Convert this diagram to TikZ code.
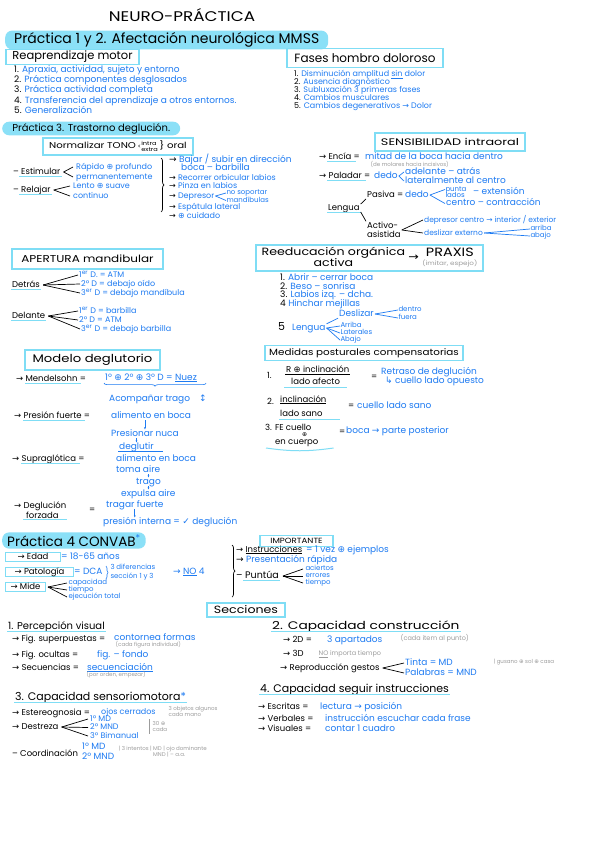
\documentclass[tikz,border=0pt]{standalone}
\usepackage{fontspec}
\setmainfont{Poppins}
\newfontfamily\symf{DejaVu Sans}
\usetikzlibrary{arrows.meta,positioning,decorations.pathreplacing}

\definecolor{ink}{HTML}{1E7BF2}
\definecolor{hili}{HTML}{8BE0F7}
\definecolor{cyanl}{HTML}{7FDDF5}
\definecolor{pencil}{HTML}{9C9C9C}

\newcommand{\rarr}{{\symf →}}
\newcommand{\udarr}{{\symf ↕}}
\newcommand{\plusc}{{\symf ⊕}}
\newcommand{\chk}{{\symf ✓}}
\newcommand{\hook}{{\symf ↳}}
\newcommand{\wid}[2]{\scalebox{#1}[1]{#2}}
\renewcommand{\arraystretch}{0.85}

\begin{document}
\begin{tikzpicture}[x=1pt, y=-1pt,
    font=\fontsize{8.5}{9}\selectfont,
    hd/.style={fill=hili, rounded corners=7pt, anchor=west, inner xsep=5pt,
      inner ysep=2pt, font=\fontsize{14}{14}\selectfont},
    box/.style={draw=cyanl, line width=1.1pt, align=center, inner sep=1pt,
      font=\fontsize{10.5}{11}\selectfont},
    tag/.style={draw=cyanl, line width=1pt, anchor=west, inner xsep=2pt,
      inner ysep=1pt, text height=5.5pt, text depth=1.5pt},
    bk/.style={anchor=west, inner xsep=1pt, inner ysep=0.3pt, text height=5.5pt, text depth=1.5pt},
    bl/.style={bk, text=ink, font=\fontsize{9}{9.5}\selectfont, text height=5.8pt},
    bls/.style={bl, font=\fontsize{8}{8.5}\selectfont, text height=5.3pt, text depth=1.3pt},
    two/.style={anchor=west, inner sep=1pt, align=left, font=\fontsize{8.5}{8.5}\selectfont},
    gr/.style={anchor=west, inner sep=0.5pt, text=pencil, font=\fontsize{5.5}{6}\selectfont},
    sm/.style={bl, inner sep=0.3pt, font=\fontsize{7}{7}\selectfont, text height=4.8pt, text depth=1pt},
    ul/.style={draw=cyanl, line width=1pt},
    br/.style={line width=0.7pt},
    dn/.style={-{Latex[length=2.5pt]}, ink, line width=0.6pt},
    brc/.style={decorate, decoration={brace, amplitude=3pt}, line width=0.7pt}
  ]
    \fill[white] (0,0) rectangle (599,848);
    \useasboundingbox (0,0) rectangle (599,848);

    % title and practica 1 y 2
    \node[font=\fontsize{14}{14}\selectfont, inner sep=0pt] (title) at (182,15) {\wid{1.2}{NEURO-PRÁCTICA}};
    \node[hd, minimum width=323pt] (p12) at (5,40) {Práctica 1 y 2. Afectación neurológica MMSS};

    \node[box, minimum width=133pt, minimum height=15pt, font=\fontsize{11.5}{12}\selectfont] (reap) at (72.5,57) {Reaprendizaje motor};
    \node[bl] (r1) at (13,70) {\textcolor{black}{1.} Apraxia, actividad, sujeto y entorno};
    \node[bl, below=2pt of r1.south west, anchor=north west] (r2) {\textcolor{black}{2.} Práctica componentes desglosados};
    \node[bl, below=2pt of r2.south west, anchor=north west] (r3) {\textcolor{black}{3.} Práctica actividad completa};
    \node[bl, below=2pt of r3.south west, anchor=north west] (r4) {\textcolor{black}{4.} Transferencia del aprendizaje a otros entornos.};
    \node[bl, below=2pt of r4.south west, anchor=north west] (r5) {\textcolor{black}{5.} Generalización};

    \node[box, minimum width=156pt, minimum height=19pt, font=\fontsize{12}{12}\selectfont] (fases) at (365,58) {Fases hombro doloroso};
    \node[bls] (f1) at (293,75) {\textcolor{black}{1.} Disminución amplitud \underline{sin} dolor};
    \node[bls] (f2) at (293,83) {\textcolor{black}{2.} Ausencia diagnóstico};
    \node[bls] (f3) at (293,91) {\textcolor{black}{3.} Subluxación 3 primeras fases};
    \node[bls] (f4) at (293,99) {\textcolor{black}{4.} Cambios musculares};
    \node[bls] (f5) at (293,107) {\textcolor{black}{5.} Cambios degenerativos \rarr\ Dolor};

    % practica 3
    \node[hd, minimum width=178pt, font=\fontsize{10}{10}\selectfont, inner ysep=1.5pt] (p3) at (2,128.5) {Práctica 3. Trastorno deglución.};

    \node[box, minimum width=150pt, minimum height=17pt, font=\fontsize{8.5}{9}\selectfont] (tono) at (118,146.5)
      {\wid{1.2}{Normalizar TONO\,{\fontsize{5.5}{6}\selectfont<\begin{tabular}{@{}l@{}}intra\\extra\end{tabular}}\,\} oral}};

    \node[bk] (estim) at (12,172) {– Estimular};
    \draw[ul] ([xshift=7pt]estim.south west) -- (estim.south east);
    \node[bls] (rap) at (75,167) {Rápido \plusc{} profundo};
    \node[bls] (perm) at (75,177) {permanentemente};
    \draw[br] ([xshift=2pt]estim.east) -- ([xshift=-2pt]rap.west);
    \draw[br] ([xshift=2pt]estim.east) -- ([xshift=-2pt]perm.west);
    \node[bk] (relaj) at (12,190) {– Relajar};
    \draw[ul] ([xshift=7pt]relaj.south west) -- (relaj.south east);
    \node[bls] (lento) at (72,186) {Lento \plusc{} suave};
    \node[bls] (cont) at (72,196) {continuo};
    \draw[br] ([xshift=2pt]relaj.east) -- ([xshift=-2pt]lento.west);
    \draw[br] ([xshift=2pt]relaj.east) -- ([xshift=-2pt]cont.west);

    \draw[brc] (161,158) -- (161,212);
    \node[bl] (b1) at (168,160) {\textcolor{black}{\rarr} Bajar / subir en dirección};
    \node[bl] (b1b) at (180,168.5) {boca – barbilla};
    \node[bls] (b2) at (168,178) {\textcolor{black}{\rarr} Recorrer orbicular labios};
    \node[bls] (b3) at (168,186.5) {\textcolor{black}{\rarr} Pinza en labios};
    \node[bls] (b4) at (168,196) {\textcolor{black}{\rarr} Depresor};
    \node[sm] (b4a) at (226,193) {no soportar};
    \node[sm] (b4b) at (226,200.5) {mandíbulas};
    \draw[br, ink] (b4.east) -- (b4a.west);
    \draw[br, ink] (b4.east) -- (b4b.west);
    \node[bls] (b5) at (168,207.5) {\textcolor{black}{\rarr} Espátula lateral};
    \node[bls] (b6) at (168,216.5) {\textcolor{black}{\rarr} \plusc{} cuidado};

    % sensibilidad intraoral
    \node[box, minimum width=150pt, minimum height=18pt, font=\fontsize{9.5}{10}\selectfont] (sens) at (450,142) {\wid{1.35}{SENSIBILIDAD intraoral}};
    \node[bk] (enc) at (318,157) {\rarr\ Encía =};
    \draw[ul] ([xshift=9pt]enc.south west) -- ([xshift=-5pt]enc.south east);
    \node[bl] (encb) at (364,157) {mitad de la boca hacia dentro};
    \node[gr] (encg) at (370,164) {(de molares hacia incisivos)};
    \node[bk] (pal) at (318,176) {\rarr\ Paladar =};
    \draw[ul] ([xshift=9pt]pal.south west) -- ([xshift=-5pt]pal.south east);
    \node[bl] (paldedo) at (373,176) {dedo};
    \node[bl] (pala) at (404,172) {adelante – atrás};
    \node[bl] (palb) at (404,181) {lateralmente al centro};
    \draw[br, ink] (paldedo.east) -- (pala.west);
    \draw[br, ink] (paldedo.east) -- (palb.west);

    \node[bk] (leng) at (327,208) {Lengua};
    \draw[ul] (leng.south west) -- (leng.south east);
    \node[bk] (pas) at (366,195) {Pasiva =};
    \node[bl] (pasdedo) at (404,195) {dedo};
    \node[sm] (pp1) at (445,189.5) {punta};
    \node[sm] (pp2) at (445,196) {lados};
    \node[bl] (pext) at (472,192) {– extensión};
    \node[bl] (pcen) at (445,203.5) {centro – contracción};
    \draw[br, ink] (pasdedo.east) -- (pp1.west);
    \draw[br, ink] (pasdedo.east) -- (pcen.west);
    \node[two] (act) at (366,230) {Activo-\\asistida};
    \draw[br] (leng.north east) -- (pas.south west);
    \draw[br] (leng.south east) -- (act.north west);
    \node[bl, font=\fontsize{7.5}{8}\selectfont] (act1) at (423,220) {depresor centro \rarr\ interior / exterior};
    \node[bl, font=\fontsize{7.5}{8}\selectfont] (act2) at (423,233) {deslizar externo};
    \node[sm] (aa1) at (530,229) {arriba};
    \node[sm] (aa2) at (530,236) {abajo};
    \draw[br] (act.east) -- (act1.west);
    \draw[br] (act.east) -- (act2.west);
    \draw[br, ink] (act2.east) -- (aa1.west);
    \draw[br, ink] (act2.east) -- (aa2.west);

    % apertura mandibular
    \node[box, minimum width=151pt, minimum height=20pt, font=\fontsize{10}{10}\selectfont] (aper) at (87.5,259) {\wid{1.2}{APERTURA mandibular}};
    \node[bk] (detras) at (11,285) {Detrás};
    \draw[ul] (detras.south west) -- (detras.south east);
    \node[bls] (d1) at (78,275) {1\textsuperscript{er} D. = ATM};
    \node[bls] (d2) at (80,284) {2º D = debajo oído};
    \node[bls] (d3) at (80,293) {3\textsuperscript{er} D = debajo mandíbula};
    \foreach \t in {d1,d2,d3} \draw[br] ([xshift=2pt]detras.east) -- (\t.west);
    \node[bk] (delante) at (11,316) {Delante};
    \draw[ul] (delante.south west) -- (delante.south east);
    \node[bls] (e1) at (78,311) {1\textsuperscript{er} D = barbilla};
    \node[bls] (e2) at (78,320) {2º D = ATM};
    \node[bls] (e3) at (80,329) {3\textsuperscript{er} D = debajo barbilla};
    \foreach \t in {e1,e2,e3} \draw[br] ([xshift=2pt]delante.east) -- (\t.west);

    % reeducacion organica
    \node[box, minimum width=227pt, minimum height=26pt] (reed) at (369.5,258)
      {\wid{1.2}{\begin{tabular}{@{}c@{}}Reeducación orgánica\\activa\end{tabular}\ \rarr\ %
       \begin{tabular}{@{}c@{}}{\fontsize{12}{12}\selectfont PRAXIS}\\{\color{pencil}\fontsize{6}{6}\selectfont(imitar, espejo)}\end{tabular}}};
    \node[bl] (o1) at (279,278) {\textcolor{black}{1.} Abrir – cerrar boca};
    \node[bl] (o2) at (279,287) {\textcolor{black}{2.} Beso – sonrisa};
    \node[bl] (o3) at (279,295) {\textcolor{black}{3.} Labios izq. – dcha.};
    \node[bl] (o4) at (279,304) {\textcolor{black}{4} Hinchar mejillas};
    \node[bk, font=\fontsize{11}{11}\selectfont] (o5) at (277,328) {5};
    \node[bl] (oleng) at (291,328) {Lengua};
    \node[bl] (odes) at (338,314) {Deslizar};
    \node[sm] (odes1) at (398,310) {dentro};
    \node[sm] (odes2) at (398,318) {fuera};
    \node[sm] (ofue) at (340,326) {Arriba};
    \node[sm] (olat) at (340,333) {Laterales};
    \node[sm] (oaba) at (340,340) {Abajo};
    \draw[br, ink] (oleng.north east) -- (odes.south west);
    \foreach \t in {ofue,olat,oaba} \draw[br, ink] (oleng.east) -- (\t.west);
    \draw[br, ink] (odes.east) -- (odes1.west);
    \draw[br, ink] (odes.east) -- (odes2.west);

    % modelo deglutorio
    \node[box, minimum width=135pt, minimum height=20pt, font=\fontsize{11}{11}\selectfont] (modelo) at (92.5,360) {\wid{1.2}{Modelo deglutorio}};
    \node[bk] (mend) at (15,379) {\rarr\ Mendelsohn =};
    \draw[ul] ([xshift=10pt]mend.south west) -- ([xshift=-6pt]mend.south east);
    \node[bl] (mendb) at (104,378) {1º \plusc{} 2º \plusc{} 3º D = \underline{Nuez}};
    \draw[ink, line width=0.6pt, decorate, decoration={brace, mirror, amplitude=3pt}]
      ([yshift=-1pt]mendb.south west) -- ([yshift=-1pt,xshift=8pt]mendb.south east);
    \node[bl] (acom) at (108,399) {Acompañar trago\quad\udarr};

    \node[bk] (pres) at (13,416) {\rarr\ Presión fuerte =};
    \draw[ul] ([xshift=10pt]pres.south west) -- ([xshift=-6pt]pres.south east);
    \node[bl] (pres1) at (110,416) {alimento en boca};
    \node[bl] (pres2) at (110,434) {Presionar nuca};
    \node[bl] (pres3) at (118,447) {deglutir};
    \draw[dn] (pres2.north |- pres1.south) -- (pres2.north);
    \draw[dn] (pres3.north |- pres2.south) -- (pres3.north);
    \draw[ink, line width=0.6pt] (pres3.south west) -- ([xshift=8pt]pres3.south east);

    \node[bk] (supra) at (11,459) {\rarr\ Supraglótica =};
    \draw[ul] ([xshift=10pt]supra.south west) -- ([xshift=-6pt]supra.south east);
    \node[bl] (su1) at (115,459) {alimento en boca};
    \node[bl] (su2) at (115,470) {toma aire};
    \node[bl] (su3) at (135,482) {trago};
    \node[bl] (su4) at (120,494) {expulsa aire};
    \draw[dn] (su3.north |- su2.south) -- (su3.north);
    \draw[dn] (su3.south) -- (su3.south |- su4.north);

    \node[two] (degf) at (13,510) {\rarr\ Deglución\\\hspace*{12pt}forzada};
    \draw[ul] ([xshift=10pt]degf.south west) -- (degf.south east);
    \node[bk] (degeq) at (88,510) {=};
    \node[bl] (dg1) at (105,505) {tragar fuerte};
    \node[bl] (dg2) at (102,522) {presión interna = \chk{} deglución};
    \draw[dn] (dg1.south) -- (dg1.south |- dg2.north);

    % medidas posturales
    \node[box, minimum width=198pt, minimum height=15pt, font=\fontsize{9}{9}\selectfont] (medidas) at (364,353) {\wid{1.15}{Medidas posturales compensatorias}};
    \node[bk] (m1n) at (266,376) {1.};
    \node[bk] (m1a) at (285,370) {R \plusc{} inclinación};
    \node[bk] (m1b) at (290,382) {lado afecto};
    \draw[br] (m1a.south west) -- (m1a.south east);
    \draw[ul] ([xshift=-6pt,yshift=-1.5pt]m1b.south west) -- ([xshift=6pt,yshift=-1.5pt]m1b.south east);
    \node[bk] (m1eq) at (370,377) {=};
    \node[bl] (m1c) at (380,372) {Retraso de deglución};
    \node[bl] (m1d) at (384,381) {\hook\ cuello lado opuesto};

    \node[bk] (m2n) at (266,402) {2.};
    \node[bk] (m2a) at (279,400) {\underline{inclinación}};
    \node[bk] (m2b) at (279,414) {lado sano};
    \draw[ul] ([yshift=-1.5pt]m2b.south west) -- ([xshift=16pt,yshift=-1.5pt]m2b.south east);
    \node[bk] (m2eq) at (347,406) {=};
    \node[bl] (m2c) at (356,406) {cuello lado sano};

    \node[bk] (m3a) at (264,428) {3. FE cuello};
    \node[bk, font=\fontsize{6}{6}\selectfont, inner sep=0pt, text height=4pt, text depth=0.5pt] (m3p) at (302,435) {\plusc};
    \node[bk] (m3b) at (274,442) {en cuerpo};
    \draw[ul] ([xshift=-8pt,yshift=-2pt]m3b.south west) to[bend right=8] ([xshift=14pt,yshift=-2pt]m3b.south east);
    \node[bk] (m3eq) at (338,432) {=};
    \node[bl] (m3c) at (345,431) {boca \rarr\ parte posterior};

    % practica 4
    \node[hd, minimum width=143pt, font=\fontsize{13.5}{13.5}\selectfont] (p4) at (2,540.5) {Práctica 4 CONVAB\textsuperscript{\textcolor{ink}{*}}};
    \node[tag, minimum width=55pt] (edad) at (5,557) {\rarr\ Edad};
    \node[bl] (edadb) at (60,557) {= 18-65 años};
    \node[tag, minimum width=68pt] (pato) at (5,572) {\rarr\ Patología};
    \node[bl] (patob) at (73,572) {= DCA};
    \draw[brc, ink, line width=0.6pt, decoration={brace, amplitude=2pt}] (106,566) -- (106,579);
    \node[sm] (pat1) at (110,568) {3 diferencias};
    \node[sm] (pat2) at (110,577) {sección 1 y 3};
    \node[bl] (patno) at (172,572) {\rarr\ \underline{NO} 4};
    \node[tag, minimum width=40pt] (mide) at (5,587) {\rarr\ Mide};
    \node[sm] (mi1) at (68,583) {capacidad};
    \node[sm] (mi2) at (68,590) {tiempo};
    \node[sm] (mi3) at (68,597) {ejecución total};
    \foreach \t in {mi1,mi2,mi3} \draw[br] ([xshift=2pt]mide.east) -- ([xshift=-1pt]\t.west);

    \node[box, minimum width=73pt, minimum height=11pt, font=\fontsize{7.5}{8}\selectfont] (impo) at (296.5,541) {\wid{1.15}{IMPORTANTE}};
    \draw[brc] (232,545) -- (232,597);
    \node[bk] (ins) at (235,550) {\rarr\ \underline{Instrucciones}};
    \node[bl] (insb) at (305,550) {= 1 vez \plusc{} ejemplos};
    \node[bl] (pre) at (235,560) {\textcolor{black}{\rarr} Presentación rápida};
    \node[bk, font=\fontsize{9.5}{9.5}\selectfont] (pun) at (235,576) {– Puntúa};
    \draw[ul] ([xshift=8pt]pun.south west) -- (pun.south east);
    \node[sm] (pu1) at (305,569) {aciertos};
    \node[sm] (pu2) at (305,576) {errores};
    \node[sm] (pu3) at (305,583) {tiempo};
    \foreach \t in {pu1,pu2,pu3} \draw[br] ([xshift=3pt]pun.east) -- ([xshift=-2pt]\t.west);

    % secciones
    \node[box, minimum width=78pt, minimum height=14pt] (secc) at (246,610) {\wid{1.2}{Secciones}};

    \node[bk, font=\fontsize{10}{10}\selectfont] (sec1) at (7,627) {1. Percepción visual};
    \draw[ul] (sec1.south west) -- (sec1.south east);
    \node[bk] (fsup) at (11,639) {\rarr\ Fig. superpuestas =};
    \node[bl] (fsupb) at (113,638) {contornea formas};
    \node[gr] (fsupg) at (115,645) {(cada figura individual)};
    \node[bk] (focu) at (11,655) {\rarr\ Fig. ocultas =};
    \node[bl] (focub) at (96,655) {fig. – fondo};
    \node[bk] (fsec) at (11,668) {\rarr\ Secuencias =};
    \node[bl] (fsecb) at (86,668) {\underline{secuenciación}};
    \node[gr] (fsecg) at (86,675) {(por orden, empezar)};

    \node[bk, font=\fontsize{11}{11}\selectfont] (sec3) at (14,698) {3. Capacidad sensoriomotora\textcolor{ink}{*}};
    \draw[ul] (sec3.south west) -- (sec3.south east);
    \node[bk] (este) at (11,713) {\rarr\ Estereognosia =};
    \node[bls] (esteb) at (100,712) {ojos cerrados};
    \node[gr, align=left] (esteg) at (168,711) {3 objetos algunos\\cada mano};
    \node[bk] (dest) at (11,727) {\rarr\ Destreza};
    \node[bls] (dest1) at (89,719) {1º MD};
    \node[bls] (dest2) at (89,727.5) {2º MND};
    \node[bls] (dest3) at (89,736) {3º Bimanual};
    \foreach \t in {dest1,dest2,dest3} \draw[br] ([xshift=2pt]dest.east) -- ([xshift=-1pt]\t.west);
    \draw[pencil, line width=0.5pt] (149,719) -- (149,734);
    \node[gr, align=left] (destg) at (152,726) {30 \plusc\\cada};
    \node[bk] (coor) at (11,754) {– Coordinación};
    \node[bl] (coor1) at (81,747) {1º MD};
    \node[bl] (coor2) at (81,757) {2º MND};
    \node[gr, align=left] (coorg) at (118,752) {| 3 intentos | MD | ojo dominante\\\phantom{| 3 intentos | }MND | – a.a.};

    \node[bk, font=\fontsize{11}{11}\selectfont] (sec2) at (271,627) {\wid{1.25}{2. Capacidad construcción}};
    \draw[ul] (sec2.south west) -- (sec2.south east);
    \node[bk] (c2d) at (282,640) {\rarr\ 2D =};
    \node[bl] (c2db) at (326,640) {3 apartados};
    \node[gr, font=\fontsize{6.5}{7}\selectfont] (c2dg) at (400,638) {(cada item al punto)};
    \node[bk] (c3d) at (282,654) {\rarr\ 3D};
    \node[gr, font=\fontsize{6.5}{7}\selectfont] (c3dg) at (318,654) {\underline{NO} importa tiempo};
    \node[bk] (crep) at (279,668) {\rarr\ Reproducción gestos};
    \node[bl] (crep1) at (404,663) {Tinta = MD};
    \node[bl] (crep2) at (404,673) {Palabras = MND};
    \draw[br] ([xshift=2pt]crep.east) -- (crep1.west);
    \draw[br] ([xshift=2pt]crep.east) -- (crep2.west);
    \node[gr] (crepg) at (493,662) {| gusano \plusc{} sol \plusc{} casa};

    \node[bk, font=\fontsize{11}{11}\selectfont] (sec4) at (259,690) {4. Capacidad seguir instrucciones};
    \draw[ul] (sec4.south west) -- (sec4.south east);
    \node[bk] (iesc) at (257,707) {\rarr\ Escritas =};
    \node[bl] (iescb) at (319,707) {lectura \rarr\ posición};
    \node[bk] (iver) at (257,719) {\rarr\ Verbales =};
    \node[bl] (iverb) at (324,719) {instrucción escuchar cada frase};
    \node[bk] (ivis) at (257,729) {\rarr\ Visuales =};
    \node[bl] (ivisb) at (324,729) {contar 1 cuadro};
  \end{tikzpicture}
\end{document}
